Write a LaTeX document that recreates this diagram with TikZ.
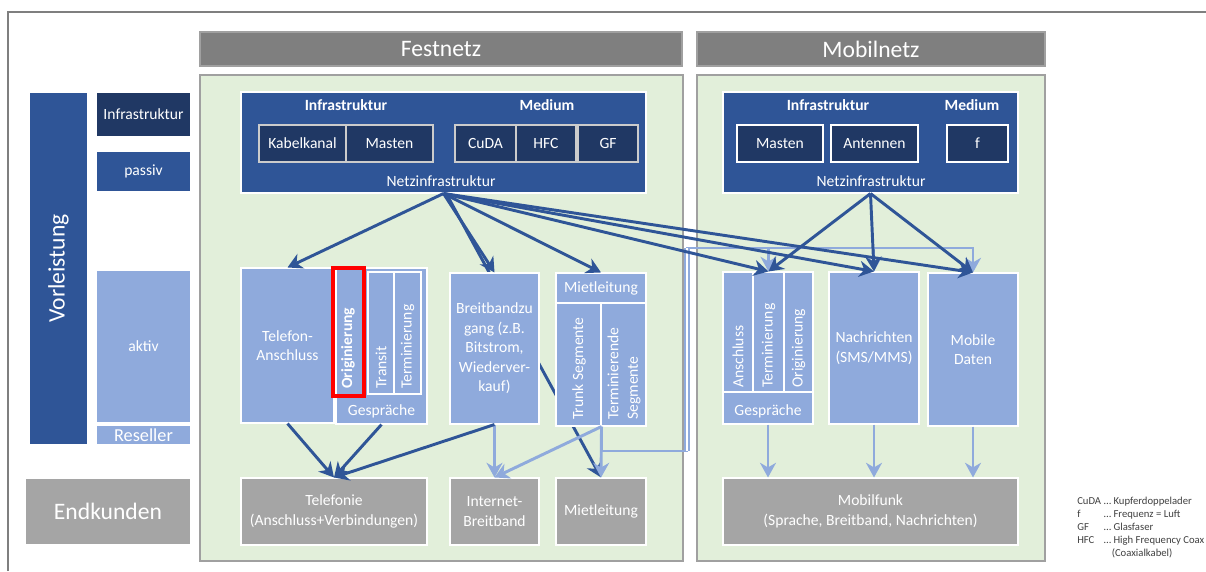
\documentclass[tikz,border=0pt]{standalone}
\usepackage{fontspec}
\setmainfont{Carlito}
\usetikzlibrary{arrows.meta, fit, positioning}
\definecolor{cnavy}{HTML}{203864}
\definecolor{cblue}{HTML}{2F5597}
\definecolor{clight}{HTML}{8FAADC}
\definecolor{chead}{HTML}{7F7F7F}
\definecolor{cend}{HTML}{A5A5A5}
\definecolor{cgreen}{HTML}{E2EFDA}
\definecolor{cframe}{HTML}{A0A0A0}
\definecolor{cred}{HTML}{FF0000}
\definecolor{ctext}{HTML}{404040}
\tikzset{
  box/.style={fill=#1, draw=white, line width=0.8pt, inner sep=0pt},
  box/.default=clight,
  inbox/.style={box=cnavy, draw=white!80!black},
  hdr/.style={fill=chead, draw=cframe, line width=0.8pt, inner sep=0pt},
  panel/.style={fill=cgreen, draw=cframe, line width=1.5pt, inner sep=0pt},
  lbl/.style={text=white, inner sep=0pt, align=center, font=\fontsize{11.7}{14.6}\selectfont},
  bigtext/.style={lbl, font=\fontsize{17.7}{21}\selectfont},
  blbl/.style={lbl, font=\fontsize{11.7}{14.6}\selectfont\bfseries},
  vlbl/.style={lbl, align=left, rotate=90, anchor=west},
  txt/.style={label={[lbl]center:#1}},
  bigtxt/.style={label={[bigtext]center:#1}},
  darrow/.style={-{Stealth[length=11pt, width=12pt, inset=3.5pt]}, draw=cblue, line width=2.2pt},
  larrow/.style={-{Stealth[length=11pt, width=12pt, inset=3.5pt]}, draw=clight, line width=2.2pt},
}

\begin{document}
\begin{tikzpicture}[x=0.75pt, y=-0.75pt]
  \useasboundingbox (0,0) rectangle (1206,571);
  \draw[chead, line width=1.2pt] (8,571) -- (8,12) -- (1206,12);

  % Kopfzeilen und Felder
  \node[hdr, fit={(200,32) (682,66)}, bigtxt=Festnetz] (fest) {};
  \node[hdr, fit={(697,32) (1045,66)}, bigtxt=Mobilnetz] (mobil) {};
  \node[panel, fit={(200,75) (683,561)}] (fpanel) {};
  \node[panel, fit={(697,75) (1045,561)}] (mpanel) {};

  % linke Spalte
  \node[box=cblue, fit={(29,92) (88,445)}] (vorl) {};
  \node[bigtext, rotate=90] (vorltxt) at (vorl.center) {Vorleistung};
  \node[box=cnavy, fit={(96,92) (191,137)}, txt=Infrastruktur] (infra) {};
  \node[box=cblue, fit={(96,151) (191,192)}, txt=passiv] (passiv) {};
  \node[box, fit={(96,270) (191,423)}, txt=aktiv] (aktiv) {};
  \node[box, fit={(96,425) (191,445)}] (resell) {};
  \node[lbl, font=\fontsize{13.7}{15}\selectfont] (reselltxt) at (resell.center) {Reseller};
  \node[box=cend, fit={(25,478) (191,545)}, bigtxt=Endkunden] (endk) {};

  % Netzinfrastruktur Festnetz
  \node[box=cblue, fit={(241,92) (646,193)}] (fnetz) {};
  \node[blbl] (finfra) at (346,105) {Infrastruktur};
  \node[blbl] (fmed) at (547,105) {Medium};
  \node[inbox, fit={(259,125) (346,162)}, txt=Kabelkanal] (kabel) {};
  \node[inbox, fit={(346,125) (433,162)}, txt=Masten] (fmast) {};
  \node[inbox, fit={(455,125) (516,162)}, txt=CuDA] (cuda) {};
  \node[inbox, fit={(516,125) (576,162)}, txt=HFC] (hfc) {};
  \node[inbox, fit={(578,125) (638,162)}, txt=GF] (gf) {};
  \node[lbl] (fnetztxt) at (441,181) {Netzinfrastruktur};

  % Netzinfrastruktur Mobilnetz
  \node[box=cblue, fit={(723,92) (1018,193)}] (mnetz) {};
  \node[blbl] (minfra) at (828,105) {Infrastruktur};
  \node[blbl] (mmed) at (972,105) {Medium};
  \node[inbox, draw=white, fit={(737,125) (823,162)}, txt=Masten] (mmast) {};
  \node[inbox, draw=white, fit={(831,125) (918,162)}, txt=Antennen] (anten) {};
  \node[inbox, draw=white, fit={(947,125) (1008,162)}, txt=f] (freq) {};
  \node[lbl] (mnetztxt) at (871,181) {Netzinfrastruktur};

  % Linie hinter den Kaesten
  \node[box=cend, fit={(556,478) (646,545)}, txt=Mietleitung] (mietend) {};
  \draw[darrow] ([xshift=2pt]fnetz.south) -- (mietend.north);

  % Vorleistungen Festnetz
  \node[box, fit={(241,268) (334,423)}, txt={Telefon-\\Anschluss}] (telan) {};
  \node[box, fit={(336,268) (427,424)}] (fgesp) {};
  \node[box, draw=none, fit={(338,274) (358,391)}] (forig) {};
  \node[box, fit={(368,272) (394,394)}] (ftrans) {};
  \node[box, fit={(394,272) (421,394)}] (fterm) {};
  \node[draw=cred, line width=3.5pt, inner sep=0pt, fit={(333,268) (364,396)}] (redmark) {};
  \node[vlbl, font=\fontsize{11.7}{14.6}\selectfont\bfseries] (forigtxt) at (348,389) {Originierung};
  \node[vlbl] (ftranstxt) at (381,389) {Transit};
  \node[vlbl] (ftermtxt) at (407.5,389) {Terminierung};
  \node[lbl] (fgesptxt) at (381.5,411) {Gespräche};

  \node[box, fit={(450,273) (539,424)}, txt={Breitbandzu\\gang (z.B.\\Bitstrom,\\Wiederver-\\kauf)}] (bband) {};

  \node[box, fit={(556,273) (646,303)}, txt=Mietleitung] (mtop) {};
  \node[box, fit={(556,303) (601,426)}] (trunk) {};
  \node[box, fit={(601,303) (646,426)}] (termseg) {};
  \node[vlbl] (trunktxt) at (579,420) {Trunk Segmente};
  \node[vlbl] (termsegtxt) at (624,420) {Terminierende\\Segmente};

  % Vorleistungen Mobilnetz
  \node[box, fit={(723,272) (813,424)}] (mgesp) {};
  \node[box, fit={(723,272) (753,392)}] (manschl) {};
  \node[box, fit={(753,272) (784,392)}] (mterm) {};
  \node[box, fit={(784,272) (813,392)}] (morig) {};
  \node[vlbl] (manschltxt) at (738,388) {Anschluss};
  \node[vlbl] (mtermtxt) at (768.5,388) {Terminierung};
  \node[vlbl] (morigtxt) at (798.5,388) {Originierung};
  \node[lbl] (mgesptxt) at (768,411) {Gespräche};
  \node[box, fit={(829,272) (919,424)}, txt={Nachrichten\\(SMS/MMS)}] (nachr) {};
  \node[box, fit={(928,273) (1018,426)}, txt={Mobile\\Daten}] (mdaten) {};

  % Endkunden
  \node[box=cend, fit={(241,478) (427,545)}, txt={Telefonie\\(Anschluss+Verbindungen)}] (telef) {};
  \node[box=cend, fit={(450,478) (539,545)}, txt={Internet-\\Breitband}] (inet) {};
  \node[box=cend, fit={(723,478) (1018,545)}, txt={Mobilfunk\\(Sprache, Breitband, Nachrichten)}] (mfunk) {};

  % hellblaue Pfeile
  \coordinate (gapbot) at (687,451);
  \coordinate (gaptop) at (687,248);
  \draw[larrow] (trunk.south east) |- (gapbot) -- (gaptop) -| (mdaten.north);
  \draw[clight, line width=1.6pt, double=white, double distance=1.6pt] (gapbot) -- (gaptop);
  \draw[larrow] (gaptop -| mterm.north) -- (mterm.north);
  \draw[larrow] (gaptop -| nachr.north) -- (nachr.north);
  \draw[larrow] (bband.south) -- (inet.north);
  \draw[larrow] (trunk.south east) -- (inet.north);
  \draw[larrow] (trunk.south east) -- (mietend.north);
  \draw[larrow] (mgesp.south) -- (mgesp.south |- mfunk.north);
  \draw[larrow] (nachr.south) -- (nachr.south |- mfunk.north);
  \draw[larrow] (mdaten.south) -- (mdaten.south |- mfunk.north);

  % dunkelblaue Pfeile
  \draw[darrow] (fnetz.south) -- (telan.north);
  \draw[darrow] (fnetz.south) -- (bband.north);
  \draw[darrow] (fnetz.south) -- (mtop.north);
  \foreach \t in {mterm, nachr, mdaten} {
    \draw[darrow] (fnetz.south) -- (\t.north);
    \draw[darrow] (mnetz.south) -- (\t.north);
  }
  \draw[darrow] (telan.south) -- (telef.north);
  \draw[darrow] (fgesp.south) -- (telef.north);
  \draw[darrow] (bband.south) -- (telef.north);

  % Legende
  \node[anchor=north west, inner sep=0pt, text=ctext, font=\fontsize{8}{9.75}\selectfont] (legend) at (1077,495)
    {\begin{tabular}{@{}l@{\hspace{2pt}}l@{}}
      CuDA & … Kupferdoppelader\\
      f & … Frequenz = Luft\\
      GF & … Glasfaser\\
      HFC & … High Frequency Coax\\
       & \hspace{6pt}(Coaxialkabel)
    \end{tabular}};
\end{tikzpicture}
\end{document}
